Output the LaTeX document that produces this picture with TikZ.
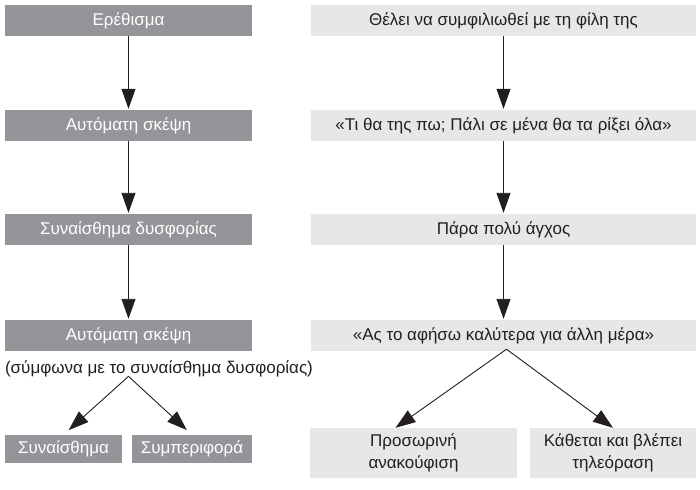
\documentclass[tikz,border=0pt]{standalone}
\usepackage{fontspec}
\setmainfont{Liberation Sans}
\usetikzlibrary{arrows.meta, positioning}
\definecolor{darkbox}{HTML}{939598}
\definecolor{lightbox}{HTML}{E6E7E8}
\definecolor{ink}{HTML}{231F20}

\begin{document}
\begin{tikzpicture}[x=1pt, y=-1pt,
    box/.style={inner sep=0pt, align=center, font=\fontsize{17}{22}\selectfont},
    darkstep/.style={box, fill=darkbox, text=white, minimum height=31pt},
    lightstep/.style={box, fill=lightbox, text=ink, minimum height=31pt},
    arr/.style={line width=0.9pt, ink, -{Triangle[length=20pt, width=14pt]}}]
  \useasboundingbox (0,0) rectangle (700,489);

  % left column: the general scheme
  \node[darkstep, minimum width=247pt] (erethisma) at (128.5,20.5) {Ερέθισμα};
  \node[darkstep, minimum width=247pt] (skepsiA)   at (128.5,125.5) {Αυτόματη σκέψη};
  \node[darkstep, minimum width=247pt] (dysforia)  at (128.5,229.5) {Συναίσθημα δυσφορίας};
  \node[darkstep, minimum width=247pt] (skepsiB)   at (128.5,335.5) {Αυτόματη σκέψη};
  \node[box, text=ink] (symfona) at (159,369) {(σύμφωνα με το συναίσθημα δυσφορίας)};
  \node[darkstep, minimum width=117pt, minimum height=28pt] (synais) at (63.5,449) {Συναίσθημα};
  \node[darkstep, minimum width=120pt, minimum height=28pt] (symper) at (192,449) {Συμπεριφορά};

  % right column: the example
  \node[lightstep, minimum width=385pt] (thelei)  at (503.5,20.5) {Θέλει να συμφιλιωθεί με τη φίλη της};
  \node[lightstep, minimum width=385pt] (tithapo) at (503.5,125.5) {«Τι θα της πω; Πάλι σε μένα θα τα ρίξει όλα»};
  \node[lightstep, minimum width=385pt] (agchos)  at (503.5,229.5) {Πάρα πολύ άγχος};
  \node[lightstep, minimum width=385pt] (afiso)   at (503.5,335.5) {«Ας το αφήσω καλύτερα για άλλη μέρα»};
  \node[lightstep, minimum width=207pt, minimum height=50pt] (anakoufisi) at (413.5,453) {Προσωρινή\\ανακούφιση};
  \node[lightstep, minimum width=166pt, minimum height=50pt] (tileorasi)  at (613,453) {Κάθεται και βλέπει\\τηλεόραση};

  % arrows
  \draw[arr, shorten >=1pt] (erethisma) -- (skepsiA);
  \draw[arr, shorten >=1pt] (skepsiA) -- (dysforia);
  \draw[arr, shorten >=1pt] (dysforia) -- (skepsiB);
  \draw[arr, shorten >=7pt] ([yshift=1pt]symfona.south -| skepsiB.south) -- (synais.north);
  \draw[arr, shorten >=7pt] ([yshift=1pt]symfona.south -| skepsiB.south) -- (symper.north);
  \draw[arr, shorten >=1pt] (thelei) -- (tithapo);
  \draw[arr, shorten >=1pt] (tithapo) -- (agchos);
  \draw[arr, shorten >=1pt] (agchos) -- (afiso);
  \draw[arr] ([xshift=3pt, yshift=2pt]afiso.south) -- ([xshift=-18pt]anakoufisi.north);
  \draw[arr] ([xshift=3pt, yshift=2pt]afiso.south) -- (tileorasi.north);
\end{tikzpicture}
\end{document}
